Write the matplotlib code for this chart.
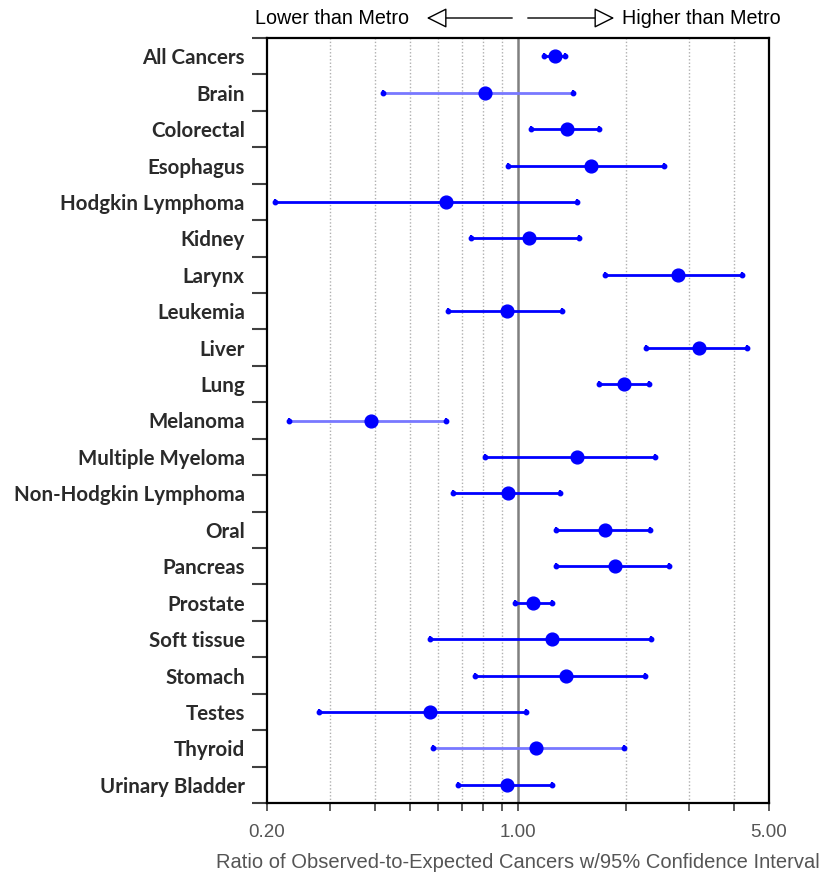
import matplotlib
matplotlib.use("Agg")
import matplotlib.pyplot as plt
from matplotlib.ticker import FixedLocator, NullFormatter, FixedFormatter
import numpy as np

categories = ["All Cancers", "Brain", "Colorectal", "Esophagus", "Hodgkin Lymphoma",
              "Kidney", "Larynx", "Leukemia", "Liver", "Lung", "Melanoma",
              "Multiple Myeloma", "Non-Hodgkin Lymphoma", "Oral", "Pancreas",
              "Prostate", "Soft tissue", "Stomach", "Testes", "Thyroid",
              "Urinary Bladder"]
ratio = [1.27, 0.81, 1.37, 1.60, 0.63, 1.07, 2.79, 0.93, 3.19, 1.97, 0.39,
         1.46, 0.94, 1.75, 1.86, 1.10, 1.24, 1.36, 0.57, 1.12, 0.93]
ci_low = [1.18, 0.42, 1.09, 0.94, 0.21, 0.74, 1.75, 0.64, 2.27, 1.68, 0.23,
          0.81, 0.66, 1.28, 1.28, 0.98, 0.57, 0.76, 0.28, 0.58, 0.68]
ci_high = [1.35, 1.42, 1.68, 2.55, 1.46, 1.48, 4.21, 1.33, 4.35, 2.32, 0.63,
           2.41, 1.31, 2.33, 2.64, 1.24, 2.35, 2.26, 1.05, 1.97, 1.24]
x_major = [0.2, 1.0, 5.0]
x_major_labels = ["0.20", "1.00", "5.00"]
x_grid = [0.3, 0.4, 0.5, 0.6, 0.7, 0.8, 0.9, 2, 3, 4]
light_rows = ["Brain", "Melanoma", "Thyroid"]

fig = plt.figure(figsize=(8.27, 8.77), dpi=100)
ax = fig.add_axes([267/827, 1-803/877, (769-267)/827, (803-38)/877])
ax.set_xscale("log")
ax.set_xlim(0.2, 5.0)
n = len(categories)
ax.set_ylim(n - 0.5, -0.5)

for v in x_grid:
    ax.axvline(v, color="#b0b0b0", lw=1.0, ls=(0, (1, 1.5)), zorder=1)
ax.axvline(1.0, color="#808080", lw=1.8, zorder=1)

ypos = np.arange(n)
for i, name in enumerate(categories):
    col = "#7878ff" if name in light_rows else "#0000ff"
    ax.plot([ci_low[i], ci_high[i]], [ypos[i], ypos[i]], color=col, lw=2.0,
            solid_capstyle="butt", zorder=2)
    ax.plot([ci_low[i], ci_high[i]], [ypos[i], ypos[i]], ls="none", marker="o",
            ms=3.2, color="#0000ff", zorder=3)
    ax.plot([ci_low[i], ci_high[i]], [ypos[i], ypos[i]], ls="none", marker="|",
            ms=5, mew=1.5, color="#0000ff", zorder=3)
ax.plot(ratio, ypos, ls="none", marker="o", ms=9.2, color="#0000ff", zorder=4)

# y axis: separators as major ticks, labels on minor ticks
ax.yaxis.set_major_locator(FixedLocator(np.arange(-0.5, n, 1.0)))
ax.yaxis.set_major_formatter(NullFormatter())
ax.yaxis.set_minor_locator(FixedLocator(ypos))
ax.yaxis.set_minor_formatter(FixedFormatter(categories))
ax.tick_params(axis="y", which="major", length=11, width=1.5, color="#404040", direction="out")
ax.tick_params(axis="y", which="minor", length=0, pad=16, labelsize=14.8, labelcolor="#2a2a2a")
for lab in ax.get_yticklabels(minor=True):
    lab.set_fontfamily("Lato")
    lab.set_fontweight("bold")

ax.xaxis.set_major_locator(FixedLocator(x_major))
ax.xaxis.set_major_formatter(FixedFormatter(x_major_labels))
ax.xaxis.set_minor_locator(FixedLocator(x_grid))
ax.xaxis.set_minor_formatter(NullFormatter())
ax.tick_params(axis="x", which="both", length=6, width=1.2, color="#404040", direction="out",
               pad=9, labelsize=13.5, labelcolor="#555555")
for lab in ax.get_xticklabels():
    lab.set_fontfamily("Liberation Sans")
ax.set_xlabel("Ratio of Observed-to-Expected Cancers w/95% Confidence Interval",
              fontsize=14.5, color="#555555", family="Liberation Sans", labelpad=9)

for s in ax.spines.values():
    s.set_linewidth(1.6)
    s.set_color("black")

# top annotation
fy = 1 - 18/877
fig.text(255/827, fy, "Lower than Metro", ha="left", va="center", fontsize=14.2,
         family="Liberation Sans", color="black")
fig.text(622/827, fy, "Higher than Metro", ha="left", va="center", fontsize=14.2,
         family="Liberation Sans", color="black")
arrow_kw = dict(arrowstyle="-|>,head_length=0.9,head_width=0.45", fc="white", ec="black", lw=1.0)
fig.patches.append(matplotlib.patches.FancyArrowPatch((515/827, fy), (424/827, fy),
                   transform=fig.transFigure, mutation_scale=14, **arrow_kw))
fig.patches.append(matplotlib.patches.FancyArrowPatch((525/827, fy), (617/827, fy),
                   transform=fig.transFigure, mutation_scale=14, **arrow_kw))

fig.savefig("out.png", dpi=100)
